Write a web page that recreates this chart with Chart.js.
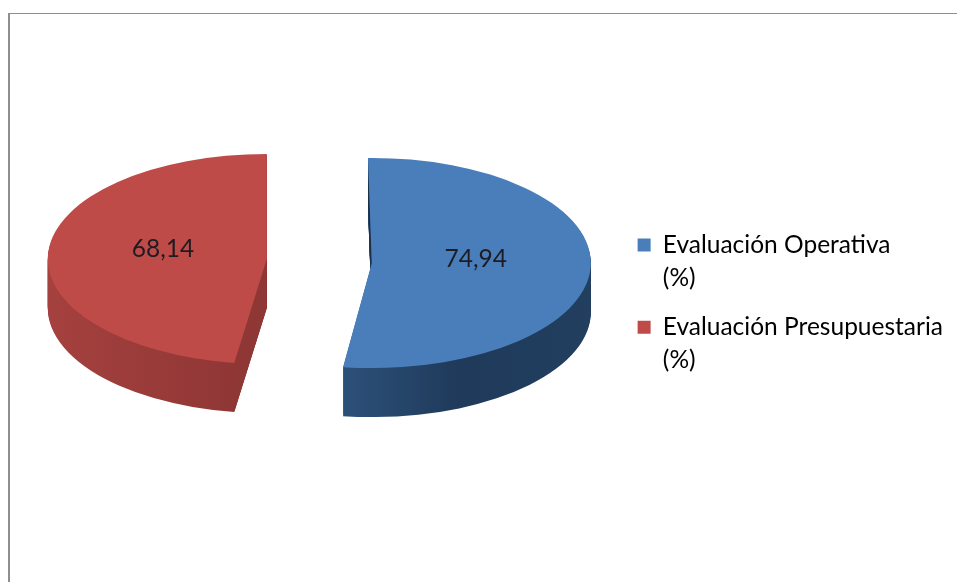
<!DOCTYPE html>
<html>
<head>
<meta charset="utf-8">
<title>Evaluación</title>
<script src="https://cdn.jsdelivr.net/npm/chart.js@4/dist/chart.umd.min.js"></script>
<style>
    html, body { margin: 0; padding: 0; background: #fff; overflow: hidden; }
    #frame { position: absolute; left: 8px; top: 13px; right: 0; bottom: 0; border-left: 2px solid #8e8e8e; border-top: 1px solid #8e8e8e; }
    #chart { position: absolute; left: 0; top: 0; }
</style>
</head>
<body>
<div id="frame"></div>
<canvas id="chart" width="957" height="582"></canvas>
<script>
const categories = ['Evaluación Operativa (%)', 'Evaluación Presupuestaria (%)'];
const legendLines = [['Evaluación Operativa', '(%)'], ['Evaluación Presupuestaria', '(%)']];
const values = [74.94, 68.14];
const valueLabels = ['74,94', '68,14'];
const colors = ['#4a7ebb', '#be4b48'];

// 3D look: flatten the pie, pull the slices apart, extrude downwards
const TILT = 0.48;
const DEPTH = 49;
const SHIFT_X = [57, -48];
const SHIFT_Y = [-44, -48];
const SPIN = [0, 1 * Math.PI / 180]; // keeps the red slice's top edge vertical
const sideStops = [
    [[0, '#1d3652'], [0.45, '#2c4f78'], [0.7, '#1f3a5a'], [1, '#223f5f']],
    [[0, '#a5413f'], [0.5, '#8c3533'], [1, '#762c2b']]
];
const faceColors = ['#1a3049', '#8f3735'];

function inPlane(ctx, arc, i, drop) {
    ctx.translate(arc.x + SHIFT_X[i], arc.y + SHIFT_Y[i] + drop);
    ctx.scale(1, TILT);
    ctx.rotate(SPIN[i]);
    ctx.translate(-arc.x, -arc.y);
}

const pie3d = {
    id: 'pie3d',
    beforeDatasetsDraw(chart) {
        const ctx = chart.ctx;
        chart.getDatasetMeta(0).data.forEach((arc, i) => {
            const r = arc.outerRadius;
            const cx = arc.x + SHIFT_X[i];
            const cy = arc.y + SHIFT_Y[i];
            const side = ctx.createLinearGradient(cx - r, 0, cx + r, 0);
            sideStops[i].forEach(s => side.addColorStop(s[0], s[1]));
            // rim, stacked copies of the slice
            for (let d = DEPTH; d > 0; d--) {
                ctx.save();
                inPlane(ctx, arc, i, d);
                ctx.beginPath();
                ctx.moveTo(arc.x, arc.y);
                ctx.arc(arc.x, arc.y, r, arc.startAngle, arc.endAngle);
                ctx.closePath();
                ctx.restore();
                ctx.fillStyle = side;
                ctx.fill();
            }
            // cut face at the start edge of the slice
            const edge = arc.startAngle + SPIN[i];
            const ex = cx + Math.cos(edge) * r;
            const ey = cy + Math.sin(edge) * r * TILT;
            ctx.beginPath();
            ctx.moveTo(cx, cy);
            ctx.lineTo(ex, ey);
            ctx.lineTo(ex, ey + DEPTH);
            ctx.lineTo(cx, cy + DEPTH);
            ctx.closePath();
            ctx.fillStyle = faceColors[i];
            ctx.fill();
            // top surface
            ctx.save();
            inPlane(ctx, arc, i, 0);
            arc.draw(ctx);
            ctx.restore();
        });
        return false;
    },
    afterDraw(chart) {
        const ctx = chart.ctx;
        ctx.save();
        ctx.font = '24.5px Lato';
        ctx.fillStyle = '#1c1c22';
        ctx.textAlign = 'center';
        ctx.textBaseline = 'middle';
        chart.getDatasetMeta(0).data.forEach((arc, i) => {
            const p = arc.getCenterPoint();
            const x = arc.x + SHIFT_X[i] + (p.x - arc.x) * 0.95;
            const y = arc.y + SHIFT_Y[i] + (p.y - arc.y) * TILT - 7;
            ctx.fillText(valueLabels[i], x, y);
        });
        ctx.restore();
    }
};

new Chart(document.getElementById('chart'), {
    type: 'pie',
    data: {
        labels: categories,
        datasets: [{
            data: values,
            backgroundColor: colors,
            borderWidth: 0,
            radius: 219
        }]
    },
    options: {
        responsive: false,
        animation: false,
        rotation: -1,
        layout: { padding: { left: 8, right: 4, top: 32, bottom: 0 } },
        plugins: {
            tooltip: { enabled: false },
            legend: {
                position: 'right',
                labels: {
                    boxWidth: 13,
                    boxHeight: 13,
                    padding: 16,
                    color: '#26262c',
                    font: { family: 'Lato', size: 24.5, lineHeight: 1.35 },
                    generateLabels: () => legendLines.map((text, i) => ({
                        text: text,
                        fillStyle: colors[i],
                        strokeStyle: colors[i],
                        lineWidth: 0,
                        index: i
                    }))
                }
            }
        }
    },
    plugins: [pie3d]
});
</script>
</body>
</html>
